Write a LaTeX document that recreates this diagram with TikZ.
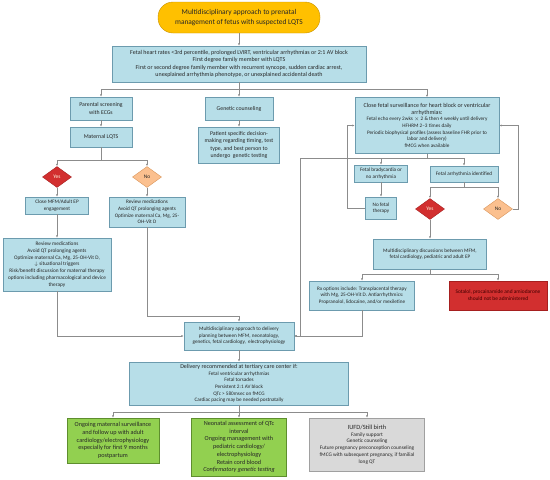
\documentclass[tikz,border=0pt]{standalone}
\usepackage{fontspec}
\setmainfont{Carlito}
\usepackage{tikz}
\usetikzlibrary{arrows.meta,positioning,calc,shapes.geometric}
\definecolor{boxc}{HTML}{B7DEE8}
\definecolor{bordc}{HTML}{6C9BAE}
\definecolor{greenc}{HTML}{92D050}
\definecolor{greenb}{HTML}{5E8E2E}
\definecolor{grayc}{HTML}{D9D9D9}
\definecolor{grayb}{HTML}{A0A0A0}
\definecolor{redc}{HTML}{D22F2F}
\definecolor{redb}{HTML}{A61F1F}
\definecolor{peachc}{HTML}{FBC08F}
\definecolor{peachb}{HTML}{D9955A}
\definecolor{titlec}{HTML}{FFC000}
\definecolor{titleb}{HTML}{C79100}
\definecolor{linec}{HTML}{8C8C8C}
\definecolor{txtc}{HTML}{262626}
\newcommand{\fs}[2]{\fontsize{#1}{#2}\selectfont}

\begin{document}
\begin{tikzpicture}[
    x=1pt, y=-1pt,
    box/.style={draw=bordc, fill=boxc, align=center, inner sep=0.5pt, text=txtc, font=\fs{5.2}{6.6}},
    gbox/.style={draw=greenb, fill=greenc, align=center, inner sep=0.5pt, text=txtc, font=\fs{6.2}{7.7}},
    graybox/.style={draw=grayb, fill=grayc, align=center, inner sep=0.5pt, text=txtc, font=\fs{5.3}{6.8}},
    redbox/.style={draw=redb, fill=redc, align=center, inner sep=0.5pt, text=red!25!black, font=\fs{5.4}{6.8}},
    yesd/.style={diamond, draw=redb, fill=redc, inner sep=0pt, minimum width=29pt, minimum height=21pt, font=\fs{5.4}{6.5}, text=white!90!yellow},
    nod/.style={diamond, draw=peachb, fill=peachc, inner sep=0pt, minimum width=29pt, minimum height=21pt, font=\fs{5.4}{6.5}, text=txtc},
    conn/.style={draw=linec, line width=0.6pt, -{Latex[length=2.4pt,width=2pt]}},
]
\useasboundingbox (0,0) rectangle (550,480);

\node[draw=titleb, fill=titlec, rounded corners=15pt, minimum width=162pt, minimum height=31pt, align=center, text=txtc, font=\fs{7.4}{9.4}] (title) at (239,17.5) {Multidisciplinary approach to prenatal\\management of fetus with suspected LQTS};

\node[box, minimum width=254pt, minimum height=36pt, font=\fs{6}{7.5}] (crit) at (239,64) {Fetal heart rates <3rd percentile, prolonged LVIRT, ventricular arrhythmias or 2:1 AV block\\First degree family member with LQTS\\First or second degree family member with recurrent syncope, sudden cardiac arrest,\\unexplained arrhythmia phenotype, or unexplained accidental death};

\node[box, minimum width=62pt, minimum height=23pt, font=\fs{5.8}{7.2}] (par) at (101,108.5) {Parental screening\\with ECGs};
\node[box, minimum width=68pt, minimum height=23pt, font=\fs{5.8}{7.2}] (gen) at (239,108.5) {Genetic counseling};
\node[box, minimum width=144pt, minimum height=56pt] (surv) at (427,125.5) {{\fs{6}{7.4}Close fetal surveillance for heart block or ventricular}\\{\fs{6}{7.4}arrhythmias:}\\Fetal echo every 2wks $\times$ 2 \& then 4 weekly until delivery\\HFHRM 2--3 times daily\\Periodic biophysical profiles (assess baseline FHR prior to\\labor and delivery)\\fMCG when available};

\node[box, minimum width=62pt, minimum height=20pt, font=\fs{5.8}{7.2}] (mat) at (101,137) {Maternal LQTS};
\node[box, minimum width=81pt, minimum height=36pt, font=\fs{5.8}{7.5}] (pat) at (239,145) {Patient specific decision-\\making regarding timing, test\\type, and best person to\\undergo~ genetic testing};

\node[yesd] (yes1) at (57,177) {Yes};
\node[nod] (no1) at (147,177) {No};

\node[box, minimum width=63pt, minimum height=17pt] (mfm) at (57,205.5) {Close MFM/Adult EP\\engagement};
\node[box, minimum width=76pt, minimum height=30pt] (rev1) at (147,212) {Review medications\\Avoid QT prolonging agents\\Optimize maternal Ca, Mg, 25-\\OH-Vit D};
\node[box, minimum width=108pt, minimum height=53pt, font=\fs{5.3}{6.9}] (rev2) at (57,264.5) {Review medications\\Avoid QT prolonging agents\\Optimize maternal Ca, Mg, 25-OH-Vit D,\\$\downarrow$ situational triggers\\Risk/benefit discussion for maternal therapy\\options including pharmacological and device\\therapy};

\node[box, minimum width=53pt, minimum height=17pt] (brady) at (381,173.5) {Fetal bradycardia or\\no arrhythmia};
\node[box, minimum width=68pt, minimum height=16pt] (arrid) at (464,174) {Fetal arrhythmia identified};
\node[box, minimum width=31pt, minimum height=22pt] (nofet) at (381,208) {No fetal\\therapy};
\node[yesd] (yes2) at (430,209) {Yes};
\node[nod] (no2) at (498,209) {No};

\node[box, minimum width=113pt, minimum height=30pt] (disc) at (430,254) {Multidisciplinary discussions between MFM,\\fetal cardiology, pediatric and adult EP};
\node[box, minimum width=105pt, minimum height=29pt] (rx) at (362,295.5) {Rx options include: Transplacental therapy\\with Mg, 25-OH-Vit D. Antiarrhythmics:\\Propranolol, lidocaine, and/or mexiletine};
\node[redbox, minimum width=98pt, minimum height=29pt] (sot) at (498,295.5) {Sotalol, procainamide and amiodarone\\should not be administered};

\node[box, minimum width=110pt, minimum height=28pt] (mdel) at (239,336) {Multidisciplinary approach to delivery\\planning between MFM, neonatology,\\genetics, fetal cardiology,~ electrophysiology};

\node[box, minimum width=219pt, minimum height=43pt] (deliv) at (239,383.5) {{\fs{6}{7.4}Delivery recommended at tertiary care center if:}\\Fetal ventricular arrhythmias\\Fetal torsades\\Persistent 2:1 AV block\\QTc > 580msec on fMCG\\Cardiac pacing may be needed postnatally};

\node[gbox, minimum width=92pt, minimum height=45pt] (ongo) at (113,440.5) {Ongoing maternal surveillance\\and follow up with adult\\cardiology/electrophysiology\\especially for first 9 months\\postpartum};
\node[gbox, minimum width=95pt, minimum height=58pt] (neo) at (239,447) {Neonatal assessment of QTc\\interval\\Ongoing management with\\pediatric cardiology/\\electrophysiology\\Retain cord blood\\\textit{Confirmatory genetic testing}};
\node[graybox, minimum width=115pt, minimum height=53pt] (iufd) at (367,444.5) {{\fs{6.4}{7.8}IUFD/Still birth}\\Family support\\Genetic counseling\\Future pregnancy preconception counseling\\fMCG with subsequent pregnancy, if familial\\long QT};

\draw[conn] (title) -- (crit);
\draw[conn] (crit.south) -- ++(0,7) -| (par.north);
\draw[conn] (crit.south) -- (gen.north);
\draw[conn] (crit.south) -- ++(0,7) -| (surv.north);

\draw[conn] (par) -- (mat);
\draw[conn] (gen) -- (pat);
\draw[conn] (mat.south) -- ++(0,13) -| (yes1.north);
\draw[conn] (mat.south) -- ++(0,13) -| (no1.north);
\draw[conn] (yes1) -- (mfm);
\draw[conn] (no1) -- (rev1);
\draw[conn] (mfm) -- (rev2);
\draw[conn] (rev2.south) |- (mdel.west);
\draw[conn] (rev1.south) -- ++(0,89) -| (mdel.north);

\draw[conn] (surv.south) -- ++(0,5) -| (brady.north);
\draw[conn] (surv.south) -- ++(0,5) -| (arrid.north);
\draw[conn] (surv.south) -- ++(0,5) -| ($(mdel.east)+(6,0)$) -- (mdel.east);
\draw[conn] (brady) -- (nofet);
\draw[conn] (nofet.west) -- ++(-18,0) |- (surv.west);
\draw[conn] (arrid.south) -- ++(0,5) -| (yes2.north);
\draw[conn] (arrid.south) -- ++(0,5) -| (no2.north);
\draw[conn] (no2.east) -- ++(6,0) |- (surv.east);
\draw[conn] (yes2) -- (disc);
\draw[conn] (disc.south) -- ++(0,5) -| (rx.north);
\draw[conn] (disc.south) -- ++(0,5) -| (sot.north);
\draw[conn] (rx.south) |- (mdel.east);

\draw[conn] (mdel) -- (deliv);
\draw[conn] (deliv.south) -- ++(0,7) -| (ongo.north);
\draw[conn] (deliv.south) -- (neo.north);
\draw[conn] (deliv.south) -- ++(0,7) -| (iufd.north);
\end{tikzpicture}
\end{document}
